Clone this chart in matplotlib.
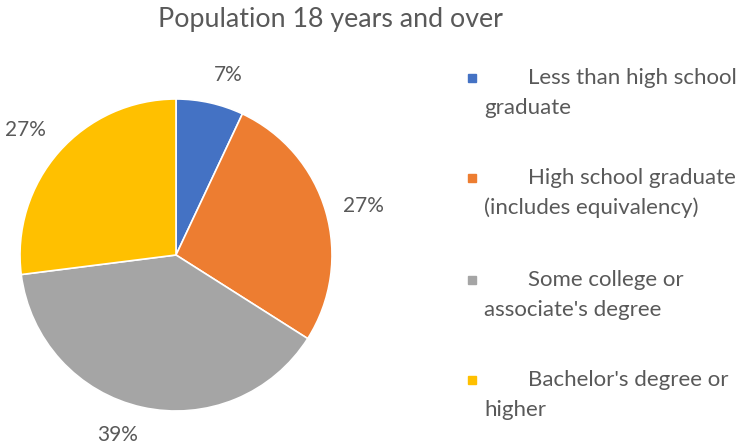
import numpy as np
import matplotlib
matplotlib.use("Agg")
import matplotlib.pyplot as plt
from matplotlib.patches import Rectangle

plt.rcParams['font.family'] = ['Lato', 'DejaVu Sans']

categories = [
    "Less than high school\ngraduate",
    "High school graduate\n(includes equivalency)",
    "Some college or\nassociate's degree",
    "Bachelor's degree or\nhigher",
]
shares = [7, 27, 39, 27]
colors = ["#4472C4", "#ED7D31", "#A5A5A5", "#FFC000"]
title = "Population 18 years and over"
text_color = "#595959"

W, H = 736, 446
fig = plt.figure(figsize=(W / 100, H / 100), dpi=100)

# pie axes: centre (176, 255) px, radius 156 px
cx, cy, r = 176, 255, 156
ax = fig.add_axes([(cx - r) / W, (H - cy - r) / H, 2 * r / W, 2 * r / H])
wedges, _ = ax.pie(
    shares, colors=colors, startangle=90, counterclock=False,
    wedgeprops=dict(edgecolor="white", linewidth=1.2),
)
ax.set_xlim(-1, 1)
ax.set_ylim(-1, 1)
ax.set_aspect("equal")
ax.axis("off")

# percentage labels just outside each wedge, anchored by the corner nearest the pie
total = sum(shares)
for w, v in zip(wedges, shares):
    mid = np.deg2rad((w.theta1 + w.theta2) / 2)
    x, y = np.cos(mid), np.sin(mid)
    ha = "left" if x >= 0 else "right"
    va = "bottom" if y > 0.5 else ("top" if y < -0.5 else "center")
    d = 1.115
    ax.text(d * x, d * y, f"{100 * v / total:.0f}%", ha=ha, va=va,
            fontsize=15, color=text_color)

fig.text(330 / W, 1 - 20 / H, title, ha="center", va="center",
         fontsize=19.3, color=text_color)

# legend: coloured square, indented first line, wrapped second line
first_y = [78, 178, 280, 380]
for name, col, y in zip(categories, colors, first_y):
    lines = name.split("\n")
    fig.patches.append(Rectangle((468 / W, 1 - (y + 4) / H), 8 / W, 8 / H,
                                 transform=fig.transFigure, color=col))
    fig.text(528 / W, 1 - y / H, lines[0], ha="left", va="center",
             fontsize=16, color=text_color)
    fig.text(484 / W, 1 - (y + 29.5) / H, lines[1], ha="left", va="center",
             fontsize=16, color=text_color)

fig.savefig("out.png", dpi=100)
